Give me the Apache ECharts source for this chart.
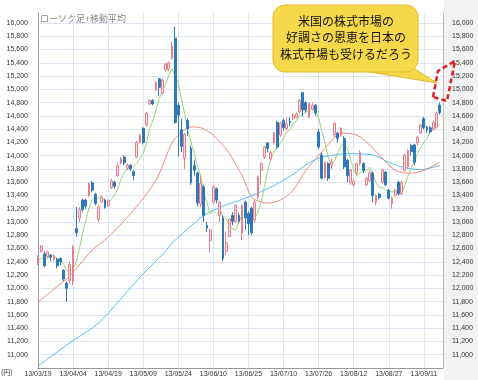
<!DOCTYPE html>
<html><head><meta charset="utf-8">
<script src="https://cdn.jsdelivr.net/npm/echarts@6/dist/echarts.min.js"></script>
<style>html,body{margin:0;padding:0;background:#fff}#c{width:478px;height:380px}</style>
</head><body><div id="c"></div>
<script>
var dates = ['13/03/19','13/03/21','13/03/22','13/03/25','13/03/26','13/03/27','13/03/28','13/03/29','13/04/01','13/04/02','13/04/03','13/04/04','13/04/05','13/04/08','13/04/09','13/04/10','13/04/11','13/04/12','13/04/15','13/04/16','13/04/17','13/04/18','13/04/19','13/04/22','13/04/23','13/04/24','13/04/25','13/04/26','13/04/30','13/05/01','13/05/02','13/05/07','13/05/08','13/05/09','13/05/10','13/05/13','13/05/14','13/05/15','13/05/16','13/05/17','13/05/20','13/05/21','13/05/22','13/05/23','13/05/24','13/05/27','13/05/28','13/05/29','13/05/30','13/05/31','13/06/03','13/06/04','13/06/05','13/06/06','13/06/07','13/06/10','13/06/11','13/06/12','13/06/13','13/06/14','13/06/17','13/06/18','13/06/19','13/06/20','13/06/21','13/06/24','13/06/25','13/06/26','13/06/27','13/06/28','13/07/01','13/07/02','13/07/03','13/07/04','13/07/05','13/07/08','13/07/09','13/07/10','13/07/11','13/07/12','13/07/16','13/07/17','13/07/18','13/07/19','13/07/22','13/07/23','13/07/24','13/07/25','13/07/26','13/07/29','13/07/30','13/07/31','13/08/01','13/08/02','13/08/05','13/08/06','13/08/07','13/08/08','13/08/09','13/08/12','13/08/13','13/08/14','13/08/15','13/08/16','13/08/19','13/08/20','13/08/21','13/08/22','13/08/23','13/08/26','13/08/27','13/08/28','13/08/29','13/08/30','13/09/02','13/09/03','13/09/04','13/09/05','13/09/06','13/09/09','13/09/10','13/09/11','13/09/12','13/09/13','13/09/17','13/09/18','13/09/19','13/09/20'];

var opens  = [12380,12560,12520,12480,12500,12430,12440,12450,12270,12080,12120,12100,12900,13060,13330,13330,13400,13590,13420,13040,13300,13330,13250,13520,13600,13700,13890,13980,13810,13850,13760,13980,14200,14410,14460,14780,14830,14990,15160,14940,15290,15300,15470,15770,14760,14390,13960,14530,14110,13850,13740,13270,13530,12950,12720,13300,13500,13100,13060,12560,12780,13100,13000,13100,12830,13300,13130,13210,13030,13380,13780,13980,14190,13950,14190,14500,14310,14530,14410,14520,14560,14580,14660,14950,14800,14580,14700,14760,14355,14010,13670,13880,13860,14310,14340,14310,14260,13930,13590,13560,13735,13880,13880,13560,13620,13740,13300,13420,13600,13750,13480,13280,13400,13600,13430,13780,13830,14150,14160,14190,14340,14560,14430,14420,14410,14430,14760];
var closes = [12470,12640,12340,12550,12470,12490,12340,12400,12140,12000,12360,12630,12840,13190,13190,13240,13580,13480,13280,13230,13380,13220,13320,13620,13540,13850,13950,13890,13860,13800,13700,14200,14310,14200,14640,14830,14780,15100,15030,15140,15380,15400,15660,14500,14610,14140,14320,14410,13590,13780,13290,13580,13100,12910,12880,13525,13330,13300,12450,12690,13040,13010,13250,13010,13250,13060,12970,12840,13300,13680,13880,14130,14110,14050,14340,14130,14490,14420,14480,14500,14600,14630,14830,14690,14690,14790,14760,14650,14130,13660,13900,13660,13900,14490,14260,14410,13830,13700,13780,13620,13880,14050,13780,13660,13740,13400,13400,13370,13780,13560,13360,13360,13480,13430,13600,14010,14080,14060,13900,14280,14460,14420,14390,14360,14500,14640,14650];
var lows   = [12350,12540,12320,12460,12410,12420,12300,12350,12110,11800,12080,12050,12780,13000,13150,13200,13380,13450,13250,13000,13280,13200,13230,13500,13500,13680,13870,13860,13780,13770,13630,13960,14180,14170,14440,14760,14760,14970,14900,14920,15270,15280,15450,14480,13990,14050,13800,14300,13560,13700,13240,13220,13000,12850,12540,13280,13280,13000,12415,12500,12780,12950,13000,12990,12725,12880,12800,12800,12990,13350,13560,13950,14050,13930,14170,14100,14280,14380,14380,14450,14530,14560,14640,14590,14650,14560,14680,14600,14100,13640,13640,13620,13800,14280,14200,14280,13800,13600,13560,13520,13700,13850,13740,13540,13600,13300,13250,13340,13580,13540,13340,13200,13380,13400,13410,13760,13810,14000,13860,14150,14320,14400,14340,14330,14380,14410,14620];
var highs  = [12500,12650,12560,12570,12520,12510,12460,12470,12290,12100,12400,12650,13225,13220,13350,13350,13600,13620,13440,13250,13400,13350,13340,13650,13620,13880,13980,14000,13880,13870,13780,14220,14330,14430,14660,14850,14850,15130,15170,15160,15400,15420,15720,15942,14800,14560,14340,14560,14150,13930,13760,13700,13560,13000,12900,13560,13520,13320,13100,12860,13060,13150,13270,13140,13260,13320,13160,13230,13330,13700,13900,14150,14200,14070,14360,14520,14510,14560,14580,14580,14640,14650,14850,14960,14820,14800,14800,14780,14400,14050,13920,13900,13960,14500,14360,14430,14300,13950,13800,13640,13900,14080,13900,13680,13780,13760,13420,13440,13800,13770,13500,13380,13500,13620,13620,14030,14100,14180,14180,14300,14480,14580,14450,14450,14520,14660,14800];

// moving averages
var ma5 = [12420,12454,12446,12444,12494,12498,12438,12450,12368,12274,12248,12306,12392,12602,12840,13026,13210,13342,13360,13366,13384,13318,13284,13342,13404,13496,13638,13750,13808,13862,13832,13882,13964,14030,14192,14410,14526,14688,14858,14964,15080,15204,15310,15198,15092,14848,14634,14374,14196,14028,13852,13696,13432,13294,13116,13166,13124,13180,13090,13052,12956,12894,12886,12998,13106,13112,13104,13020,13060,13150,13308,13534,13780,13942,14068,14120,14194,14266,14356,14396,14494,14524,14602,14626,14656,14692,14714,14664,14572,14372,14190,13978,13856,13924,14044,14150,14180,14112,13942,13794,13698,13744,13772,13778,13826,13722,13596,13520,13522,13478,13468,13452,13470,13416,13422,13548,13690,13812,13906,14034,14122,14198,14262,14370,14390,14430,14474];
var ma25 = [[0,11790],[5,11990],[10,12190],[17,12577],[22,12770],[30,13180],[37,13630],[42,14190],[45,14350],[48,14434],[51,14420],[55,14310],[60,14035],[63,13782],[64,13706],[67,13375],[70,13300],[72,13285],[76,13330],[80,13480],[84,13780],[88,14000],[92,14220],[95,14340],[100,14310],[104,14160],[107,14010],[112,13780],[117,13735],[121,13780],[126,13900]];
var ma75 = [[0,10830],[10,11180],[19,11480],[32,12170],[40,12560],[42,12680],[52,13100],[58,13240],[64,13340],[73,13525],[80,13720],[84,13860],[88,13960],[97,14030],[105,14010],[110,13900],[115,13820],[120,13790],[126,13855]];

var yMin = 10800, yMax = 16150, yStep = 200;

var kdata = opens.map(function(o, i){ return [o, closes[i], lows[i], highs[i]]; });

var chart = echarts.init(document.getElementById('c'), null, {renderer:'canvas'});
var gridCol = '#dde5f4';
var lblFont = {fontSize:7, color:'#333', fontFamily:'Liberation Sans, Arial, sans-serif'};
function yfmt(v){ if (v < 11000 || v % 200 !== 0) return ''; return echarts.format.addCommas(v); }
chart.setOption({
  animation:false,
  backgroundColor:'#fff',
  grid:{left:38, right:35, top:13, bottom:12},
  xAxis:{type:'category', data:dates, boundaryGap:false,
    axisLine:{lineStyle:{color:'#999'}}, axisTick:{show:false},
    axisLabel:Object.assign({interval:10, margin:3}, lblFont),
    splitLine:{show:true, interval:10, lineStyle:{color:gridCol, width:1}}},
  yAxis:[
    {type:'value', min:yMin, max:yMax, interval:yStep, position:'left',
     axisLine:{show:true, lineStyle:{color:'#999'}}, axisTick:{show:false},
     axisLabel:Object.assign({formatter:yfmt, margin:10, showMaxLabel:false}, lblFont),
     splitLine:{show:true, showMaxLine:false, lineStyle:{color:gridCol, width:1}}},
    {type:'value', min:yMin, max:yMax, interval:yStep, position:'right',
     axisLine:{show:true, lineStyle:{color:'#bbb'}}, axisTick:{show:false},
     axisLabel:Object.assign({formatter:yfmt, margin:9, showMaxLabel:false}, lblFont),
     splitLine:{show:false}}
  ],
  series:[
    {type:'line', data:ma75, symbol:'none', smooth:0.3, lineStyle:{color:'#4fc1ee', width:1}, z:2},
    {type:'line', data:ma25, symbol:'none', smooth:0.3, lineStyle:{color:'#f2877a', width:1}, z:2},
    {type:'line', data:ma5, symbol:'none', lineStyle:{color:'#98d672', width:1}, z:2},
    {type:'candlestick', data:kdata, barWidth:'72%', z:3,
     itemStyle:{color:'#fbdfe3', color0:'#2f78ba', borderColor:'#e8808c', borderColor0:'#2f78ba', borderWidth:1}}
  ],
  graphic:[
    {type:'rect', z:-10, shape:{x:444,y:0,width:34,height:380}, style:{fill:'#f2f2f2'}},
    {type:'text', left:40, top:14, style:{text:'ローソク足+移動平均', fontSize:9, fill:'#888', fontFamily:'Noto Sans CJK JP'}},
    {type:'text', left:1, top:369, style:{text:'(円)', fontSize:7, fill:'#333', fontFamily:'Noto Sans CJK JP'}},
    {type:'polygon', z:100, shape:{points:[[357,70],[410,66],[437,83]]}, style:{fill:'#f6d84b', stroke:'#e2bb2c', lineWidth:1}},
    {type:'rect', z:100, shape:{x:273,y:5,width:145,height:67,r:12}, style:{fill:'#f6d84b', stroke:'#e2bb2c', lineWidth:1}},
    {type:'polygon', z:101, shape:{points:[[358,69],[409,66],[409,71],[358,71]]}, style:{fill:'#f6d84b'}},
    {type:'text', z:102, x:346, y:21, style:{text:'米国の株式市場の', fontSize:12, fill:'#111', align:'center', verticalAlign:'middle', fontFamily:'Noto Sans CJK JP'}},
    {type:'text', z:102, x:346, y:37, style:{text:'好調さの恩恵を日本の', fontSize:12, fill:'#111', align:'center', verticalAlign:'middle', fontFamily:'Noto Sans CJK JP'}},
    {type:'text', z:102, x:346, y:54, style:{text:'株式市場も受けるだろう', fontSize:12, fill:'#111', align:'center', verticalAlign:'middle', fontFamily:'Noto Sans CJK JP'}},
    {type:'polygon', z:103, shape:{points:[[433,97],[438,71],[455,61],[447,101]]}, style:{fill:'none', stroke:'#e0201b', lineWidth:2.5, lineDash:[5,3]}}
  ]
});
</script></body></html>
